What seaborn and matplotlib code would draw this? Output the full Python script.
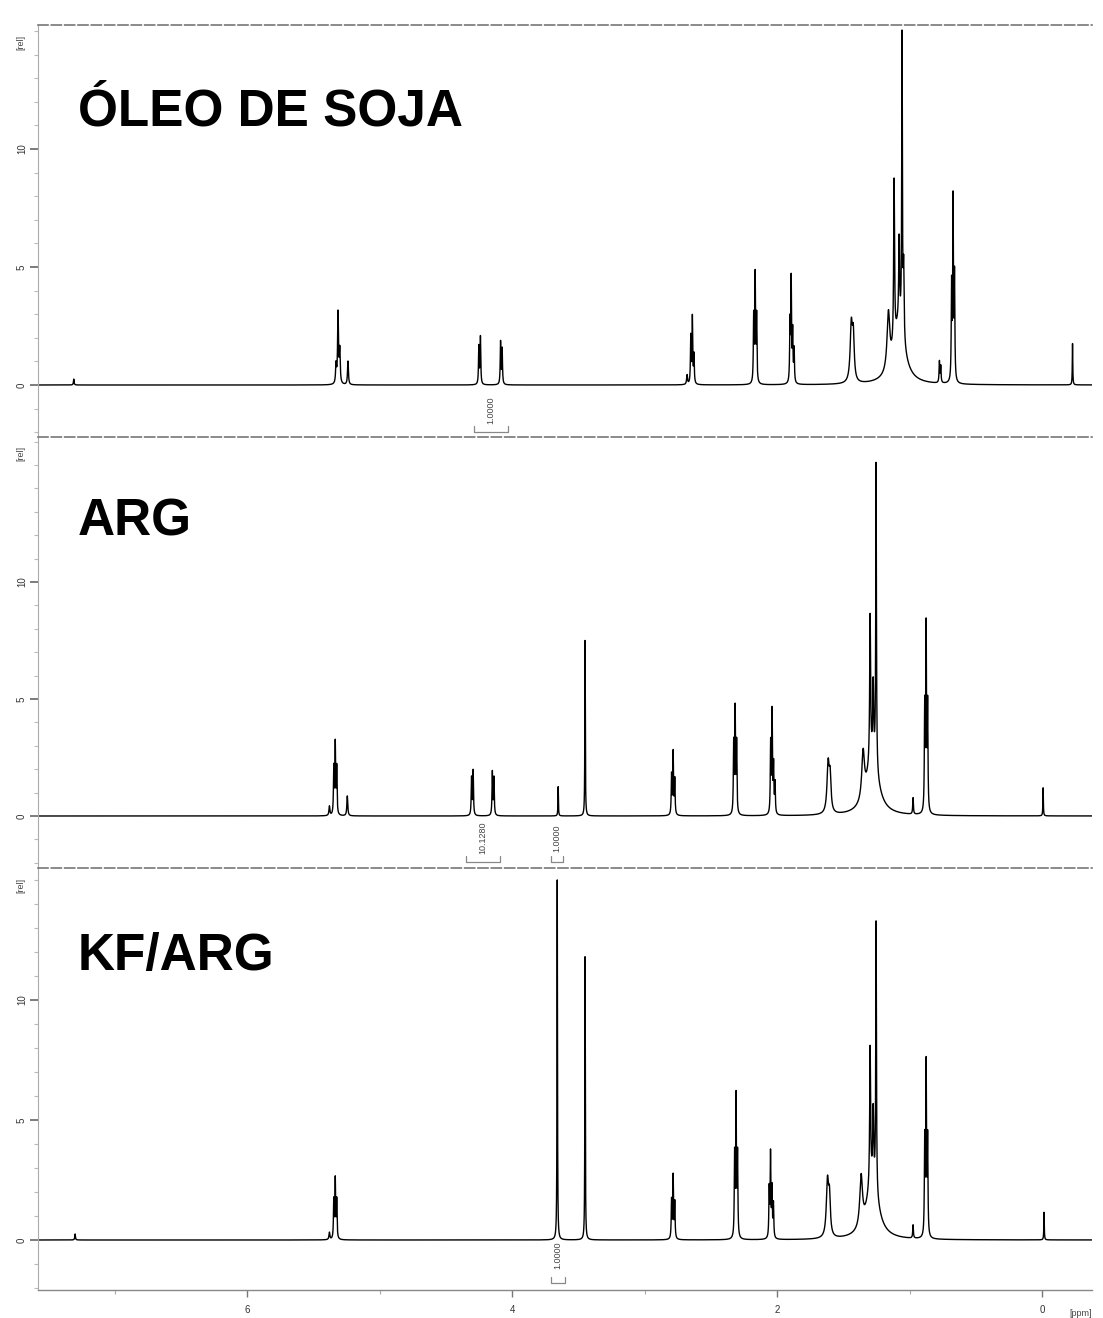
import numpy as np
import pandas as pd
import seaborn as sns
import matplotlib.pyplot as plt
from matplotlib.ticker import MultipleLocator, FixedLocator
import matplotlib.transforms as mtransforms

# ---------------- data ----------------
panel_titles = ["ÓLEO DE SOJA", "ARG", "KF/ARG"]

# ÓLEO DE SOJA: line positions (ppm), heights (rel), half widths (ppm)
soja_ppm = [7.31, 5.33, 5.315, 5.302, 5.24, 4.252, 4.24, 4.088, 4.076,
            2.68, 2.652, 2.64, 2.628, 2.177, 2.166, 2.155,
            1.903, 1.894, 1.883, 1.872, 1.44, 1.425,
            1.08, 1.16, 1.117, 1.079, 1.057, 1.045,
            0.775, 0.765, 0.683, 0.672, 0.661, -0.23]
soja_int = [0.25, 0.8, 3.0, 1.4, 1.0, 1.6, 2.0, 1.8, 1.5,
            0.4, 2.0, 2.8, 1.2, 2.8, 4.5, 2.8,
            2.5, 4.3, 2.1, 1.4, 2.4, 1.8,
            2.5, 2.4, 6.9, 3.5, 12.5, 3.0,
            0.9, 0.7, 4.0, 7.6, 4.4, 1.75]
soja_hw = [0.003, 0.004, 0.004, 0.004, 0.004, 0.003, 0.003, 0.003, 0.003,
           0.004, 0.003, 0.003, 0.003, 0.003, 0.003, 0.003,
           0.003, 0.003, 0.003, 0.003, 0.010, 0.008,
           0.05, 0.012, 0.004, 0.004, 0.003, 0.004,
           0.003, 0.003, 0.003, 0.003, 0.003, 0.002]

# ARG
arg_ppm = [5.38, 5.347, 5.336, 5.325, 5.245, 4.307, 4.295, 4.15, 4.138,
           3.653, 3.45, 2.797, 2.785, 2.773, 2.328, 2.317, 2.306,
           2.049, 2.038, 2.027, 2.016, 1.615, 1.60,
           1.28, 1.351, 1.298, 1.275, 1.253,
           0.974, 0.886, 0.875, 0.864, -0.008]
arg_int = [0.4, 2.0, 3.0, 2.0, 0.85, 1.6, 1.9, 1.85, 1.6,
           1.25, 7.5, 1.7, 2.65, 1.5, 3.0, 4.4, 3.0,
           3.0, 4.3, 2.0, 1.3, 2.1, 1.4,
           2.5, 2.0, 6.2, 3.0, 13.0,
           0.7, 4.5, 7.8, 4.5, 1.2]
arg_hw = [0.004, 0.003, 0.003, 0.003, 0.004, 0.003, 0.003, 0.003, 0.003,
          0.002, 0.002, 0.003, 0.003, 0.003, 0.003, 0.003, 0.003,
          0.003, 0.003, 0.003, 0.003, 0.010, 0.008,
          0.05, 0.012, 0.004, 0.004, 0.003,
          0.003, 0.003, 0.003, 0.003, 0.002]

# KF/ARG
kf_ppm = [7.30, 5.38, 5.347, 5.336, 5.325, 3.66, 3.45,
          2.797, 2.785, 2.773, 2.321, 2.31, 2.299,
          2.06, 2.05, 2.039, 2.028, 1.62, 1.605,
          1.28, 1.366, 1.298, 1.275, 1.253,
          0.974, 0.886, 0.875, 0.864, -0.015]
kf_int = [0.25, 0.3, 1.6, 2.45, 1.6, 15.0, 11.8,
          1.6, 2.6, 1.5, 3.4, 5.75, 3.4,
          2.0, 3.45, 2.0, 1.4, 2.3, 1.5,
          2.5, 2.1, 5.7, 2.8, 11.2,
          0.55, 4.0, 7.05, 4.0, 1.15]
kf_hw = [0.003, 0.004, 0.003, 0.003, 0.003, 0.002, 0.002,
         0.003, 0.003, 0.003, 0.003, 0.003, 0.003,
         0.003, 0.003, 0.003, 0.003, 0.010, 0.008,
         0.05, 0.012, 0.004, 0.004, 0.003,
         0.003, 0.003, 0.003, 0.003, 0.002]

# integral regions (ppm start, ppm end) and values
soja_integrals = [(4.29, 4.03)]
soja_integral_labels = ["1.0000"]
arg_integrals = [(4.35, 4.09), (3.71, 3.62)]
arg_integral_labels = ["10.1280", "1.0000"]
kf_integrals = [(3.71, 3.60)]
kf_integral_labels = ["1.0000"]

y_ticks = [0, 5, 10]
x_ticks = [6, 4, 2, 0]
x_tick_labels = ["6", "4", "2", "0"]

# ---------------- build spectra ----------------
grid = np.linspace(7.6, -0.4, 40001)


def spectrum(ppm, heights, widths):
    y = np.zeros_like(grid)
    for p, h, w in zip(ppm, heights, widths):
        y += h / (1.0 + ((grid - p) / w) ** 2)
    return y


panels = [
    (soja_ppm, soja_int, soja_hw, soja_integrals, soja_integral_labels),
    (arg_ppm, arg_int, arg_hw, arg_integrals, arg_integral_labels),
    (kf_ppm, kf_int, kf_hw, kf_integrals, kf_integral_labels),
]

# ---------------- figure ----------------
sns.set_theme(style="white")
plt.rcParams['font.family'] = ['Liberation Sans', 'DejaVu Sans']

W, H = 1103, 1318
fig = plt.figure(figsize=(W / 100, H / 100), dpi=100)

# (top px, bottom px, baseline px, px per unit)
layout = [(25, 437, 385, 23.6), (437, 868, 816, 23.4), (868, 1290, 1240, 24.0)]
left_px, right_px = 38, 1092
title_base_px = [125, 535, 970]
label_center_px = [410, 838, 1255]
bracket_px = [432, 862, 1283]

for i, ((top, bot, base, ppu), (pp, hh, ww, regs, reglab)) in enumerate(zip(layout, panels)):
    ax = fig.add_axes([left_px / W, 1 - bot / H, (right_px - left_px) / W, (bot - top) / H])
    ymax = (base - top) / ppu
    ymin = (base - bot) / ppu
    df = pd.DataFrame({"ppm": grid, "rel": spectrum(pp, hh, ww)})
    sns.lineplot(data=df, x="ppm", y="rel", ax=ax, estimator=None, sort=False,
                 color="black", linewidth=1.0)
    ax.set_xlim(7.58, -0.377)
    ax.set_ylim(ymin, ymax)
    ax.set_xlabel("")
    ax.set_ylabel("")

    # spines
    for s in ["right", "bottom"]:
        ax.spines[s].set_visible(False)
    ax.spines["top"].set_color("#777777")
    ax.spines["top"].set_linestyle((0, (6, 2)))
    ax.spines["top"].set_linewidth(1.2)
    ax.spines["left"].set_color("#aaaaaa")
    ax.spines["left"].set_linewidth(0.8)

    # y ticks
    ax.yaxis.set_major_locator(FixedLocator(y_ticks))
    ax.yaxis.set_minor_locator(MultipleLocator(1))
    ax.tick_params(axis="y", which="major", direction="out", length=6, width=1.2,
                   color="#666666", labelsize=7, labelcolor="#333333", pad=2, left=True)
    ax.tick_params(axis="y", which="minor", direction="out", length=3, width=0.8,
                   color="#bbbbbb", left=True)
    for lab in ax.get_yticklabels():
        lab.set_rotation(90)
        lab.set_va("center")
    ax.text(-0.012, ymax - 0.4, "[rel]", rotation=90, fontsize=6.5, color="#444444",
            ha="right", va="top", transform=mtransforms.blended_transform_factory(ax.transAxes, ax.transData))

    # x ticks
    if i < 2:
        ax.tick_params(axis="x", which="both", bottom=False, labelbottom=False)
    else:
        ax.spines["bottom"].set_visible(True)
        ax.spines["bottom"].set_color("#888888")
        ax.spines["bottom"].set_linewidth(1.0)
        ax.set_xticks(x_ticks)
        ax.set_xticklabels(x_tick_labels)
        ax.xaxis.set_minor_locator(MultipleLocator(1))
        ax.tick_params(axis="x", which="major", direction="out", length=5, width=1.0,
                       color="#777777", labelsize=7, labelcolor="#333333", bottom=True, pad=6)
        ax.tick_params(axis="x", which="minor", direction="out", length=3, width=0.8,
                       color="#aaaaaa", bottom=True)
        ax.text(1.0, -0.045, "[ppm]", fontsize=6.5, color="#444444", ha="right",
                va="top", transform=ax.transAxes)

    # title
    ax.text(0.038, (base - title_base_px[i]) / ppu, panel_titles[i], fontsize=37,
            fontweight="bold", color="black", ha="left", va="baseline",
            transform=mtransforms.blended_transform_factory(ax.transAxes, ax.transData))

    # integrals
    ylab = (base - label_center_px[i]) / ppu
    ybr = (base - bracket_px[i]) / ppu
    for (a, b), lab in zip(regs, reglab):
        c = 0.5 * (a + b)
        ax.text(c, ylab, lab, rotation=90, fontsize=6.5, color="#444444",
                ha="center", va="center")
        ax.plot([a, a, b, b], [ybr + 0.25, ybr, ybr, ybr + 0.25],
                color="#888888", linewidth=0.9)

fig.savefig("out.png", dpi=100, facecolor="white")
